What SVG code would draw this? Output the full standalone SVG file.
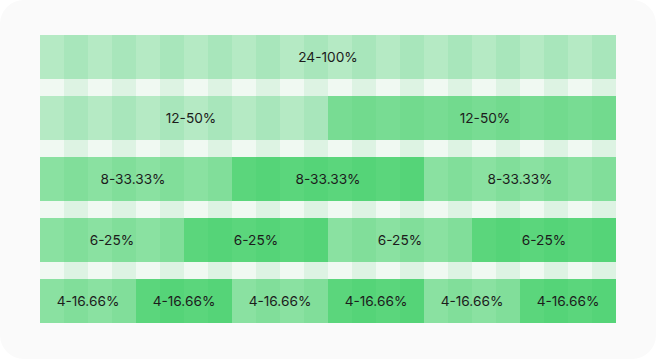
<svg xmlns="http://www.w3.org/2000/svg" width="656" height="359" viewBox="0 0 656 359">
  <defs>
    <pattern id="pS" patternUnits="userSpaceOnUse" x="40" y="0" width="48" height="359">
      <rect x="0" y="0" width="24" height="359" fill="#f0f9f2"/>
      <rect x="24" y="0" width="24" height="359" fill="#ddf3e3"/>
    </pattern>
    <pattern id="p1" patternUnits="userSpaceOnUse" x="40" y="0" width="48" height="359">
      <rect x="0" y="0" width="24" height="359" fill="#b5eac4"/>
      <rect x="24" y="0" width="24" height="359" fill="#a8e6bb"/>
    </pattern>
    <pattern id="p2" patternUnits="userSpaceOnUse" x="40" y="0" width="48" height="359">
      <rect x="0" y="0" width="24" height="359" fill="#78dc93"/>
      <rect x="24" y="0" width="24" height="359" fill="#72da8e"/>
    </pattern>
    <pattern id="p3" patternUnits="userSpaceOnUse" x="40" y="0" width="48" height="359">
      <rect x="0" y="0" width="24" height="359" fill="#8ae1a1"/>
      <rect x="24" y="0" width="24" height="359" fill="#81de9a"/>
    </pattern>
    <pattern id="p4" patternUnits="userSpaceOnUse" x="40" y="0" width="48" height="359">
      <rect x="0" y="0" width="24" height="359" fill="#5bd67c"/>
      <rect x="24" y="0" width="24" height="359" fill="#55d478"/>
    </pattern>
  </defs>
  <style>
    .t1 { fill: url(#p1); }
    .t2 { fill: url(#p2); }
    .t3 { fill: url(#p3); }
    .t4 { fill: url(#p4); }
    text { font-family: Inter, "Liberation Sans", sans-serif; font-size: 13.7px; fill: #1c1c1c; text-anchor: middle; }
  </style>
  <rect x="0" y="0" width="656" height="359" rx="24" ry="24" fill="#fafafa"/>
  <rect x="40" y="35" width="576" height="288" fill="url(#pS)"/>

  <g id="r1c1"><rect class="t1" x="40" y="35" width="576" height="44"/><text x="328" y="62">24-100%</text></g>

  <g id="r2c1"><rect class="t1" x="40" y="96" width="288" height="44"/><text x="191" y="123">12-50%</text></g>
  <g id="r2c2"><rect class="t2" x="328" y="96" width="288" height="44"/><text x="485" y="123">12-50%</text></g>

  <g id="r3c1"><rect class="t3" x="40" y="157" width="192" height="44"/><text x="133" y="184">8-33.33%</text></g>
  <g id="r3c2"><rect class="t4" x="232" y="157" width="192" height="44"/><text x="328" y="184">8-33.33%</text></g>
  <g id="r3c3"><rect class="t3" x="424" y="157" width="192" height="44"/><text x="520" y="184">8-33.33%</text></g>

  <g id="r4c1"><rect class="t3" x="40" y="218" width="144" height="44"/><text x="112" y="245">6-25%</text></g>
  <g id="r4c2"><rect class="t4" x="184" y="218" width="144" height="44"/><text x="256" y="245">6-25%</text></g>
  <g id="r4c3"><rect class="t3" x="328" y="218" width="144" height="44"/><text x="400" y="245">6-25%</text></g>
  <g id="r4c4"><rect class="t4" x="472" y="218" width="144" height="44"/><text x="544" y="245">6-25%</text></g>

  <g id="r5c1"><rect class="t3" x="40" y="279" width="96" height="44"/><text x="88" y="306">4-16.66%</text></g>
  <g id="r5c2"><rect class="t4" x="136" y="279" width="96" height="44"/><text x="184" y="306">4-16.66%</text></g>
  <g id="r5c3"><rect class="t3" x="232" y="279" width="96" height="44"/><text x="280" y="306">4-16.66%</text></g>
  <g id="r5c4"><rect class="t4" x="328" y="279" width="96" height="44"/><text x="376" y="306">4-16.66%</text></g>
  <g id="r5c5"><rect class="t3" x="424" y="279" width="96" height="44"/><text x="472" y="306">4-16.66%</text></g>
  <g id="r5c6"><rect class="t4" x="520" y="279" width="96" height="44"/><text x="568" y="306">4-16.66%</text></g>

  <g id="connectors"/>
</svg>
